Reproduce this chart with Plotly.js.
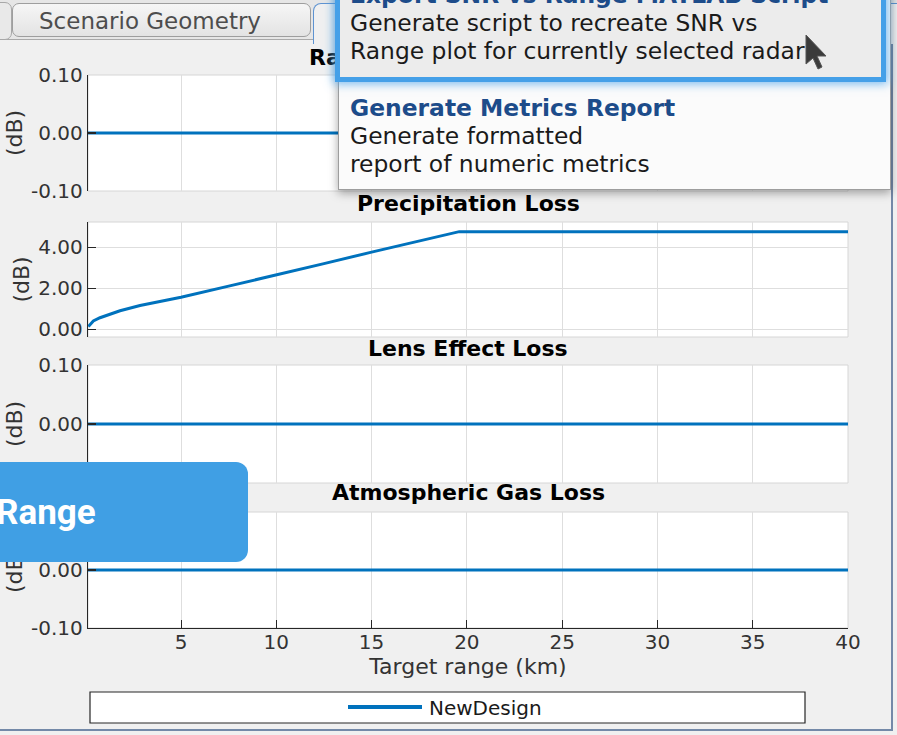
<!DOCTYPE html>
<html>
<head>
<meta charset="utf-8">
<script src="https://cdn.plot.ly/plotly-3.0.1.min.js"></script>
<style>
  html, body { margin: 0; padding: 0; background: #f5f5f5; overflow: hidden; }
  #wrap { position: relative; width: 897px; height: 735px; overflow: hidden; background: #f5f5f5; }
  #chart { position: absolute; left: 0; top: 0; width: 897px; height: 735px; }
  .ui { font-family: "DejaVu Sans", sans-serif; position: absolute; white-space: nowrap; }
  #panelBorder { position: absolute; left: -2px; top: 39px; width: 893px; height: 690px;
    border-right: 2px solid #7489a8; border-bottom: 2px solid #7489a8; pointer-events: none; }
  #strip { position: absolute; left: 0; top: 0; width: 897px; height: 39px; background: #e6e6e6;
    border-bottom: 1px solid #a9a9a9; }
  #tabPrev { position: absolute; left: -60px; top: 2px; width: 70px; height: 36px; background: #e9e9e9;
    border: 1px solid #a8a8a8; border-radius: 7px; }
  #tabScenario { position: absolute; left: 12px; top: 3px; width: 299px; height: 34px;
    background: linear-gradient(#f6f6f6, #e3e3e3); border: 1px solid #9e9e9e; border-radius: 7px;
    font-size: 23px; color: #4d4d4d; line-height: 34px; padding-left: 26px; box-sizing: border-box; }
  #tabSel { position: absolute; left: 313px; top: 3px; width: 600px; height: 40px; background: #f0f0f0;
    border: 1px solid #5e93d1; border-bottom: none; border-radius: 8px 8px 0 0; }
  #menu { position: absolute; left: 338px; top: -60px; width: 553px; height: 250px; background: #fbfbfb;
    border: 1px solid #9d9d9d; box-shadow: 0 3px 9px rgba(0,0,0,0.35); box-sizing: border-box; }
  #hilite { position: absolute; left: 335px; top: -60px; width: 551px; height: 142px; background: #ececec;
    border: 5px solid #45a0e8; box-shadow: 0 0 9px 2px rgba(80,165,235,0.75); box-sizing: border-box; }
  .mi { font-size: 23.4px; line-height: 28px; color: #1a1a1a; left: 350px; }
  .mh { font-weight: bold; color: #1d4c8a; }
  #rangeBox { position: absolute; left: -30px; top: 462px; width: 278px; height: 100px; background: #409fe4;
    border-radius: 12px; }
  #rangeTxt { position: absolute; left: -4px; top: 491px; font-family: Roboto, "Liberation Sans", sans-serif;
    font-weight: bold; font-size: 35px; line-height: 44px; color: #ffffff; white-space: nowrap; }
  #cursor { position: absolute; left: 805px; top: 34px; }
</style>
</head>
<body>
<div id="wrap">
  <div id="chart"></div>
  <div id="panelBorder"></div>
  <div id="strip"></div>
  <div id="tabPrev"></div>
  <div id="tabSel"></div>
  <div id="tabScenario" class="ui">Scenario Geometry</div>
  <div id="menu"></div>
  <div id="hilite"></div>
  <div class="ui mi mh" style="top:-19px">Export SNR vs Range MATLAB Script</div>
  <div class="ui mi" style="top:9px">Generate script to recreate SNR vs</div>
  <div class="ui mi" style="top:37px">Range plot for currently selected radar</div>
  <div class="ui mi mh" style="top:94px">Generate Metrics Report</div>
  <div class="ui mi" style="top:122px">Generate formatted</div>
  <div class="ui mi" style="top:150px">report of numeric metrics</div>
  <svg id="cursor" width="24" height="38" viewBox="0 0 24 38">
    <path d="M1,1 L1,30 L8,24 L13,35 L17,33 L12,22 L21,22 Z" fill="#3b3b3b" stroke="#555" stroke-width="1" stroke-linejoin="round"/>
  </svg>
  <div id="rangeBox"></div>
  <div id="rangeTxt">Range</div>
</div>
<script>
// ---- data ----
const subplotTitles = ['Radar Propagation Factor', 'Precipitation Loss', 'Lens Effect Loss', 'Atmospheric Gas Loss'];
const seriesName = 'NewDesign';
const flatRangeKm = [0.12, 40];
const propagationLossDb = [0, 0];
const lensLossDb = [0, 0];
const gasLossDb = [0, 0];
const precipRangeKm = [0.14, 0.4, 0.75, 1.27, 1.8, 2.85, 3.9, 5, 7.5, 10, 12.5, 15, 17, 18.6, 19.6, 25, 30, 35, 40];
const precipLossDb  = [0.13, 0.4, 0.56, 0.74, 0.9, 1.16, 1.37, 1.56, 2.1, 2.64, 3.2, 3.76, 4.19, 4.54, 4.76, 4.76, 4.76, 4.76, 4.76];
const xTickVals = [5, 10, 15, 20, 25, 30, 35, 40];
const xTickText = ['5', '10', '15', '20', '25', '30', '35', '40'];
const smallTickVals = [-0.1, 0, 0.1];
const smallTickText = ['-0.10', '0.00', '0.10'];
const precipTickVals = [0, 2, 4];
const precipTickText = ['0.00', '2.00', '4.00'];
const xRange = [0.12, 40];
const smallRange = [-0.1, 0.1];
const precipRange = [-0.38, 5.23];

// ---- layout helpers ----
const W = 897, H = 735;
const fx = p => p / W;
const fy = p => 1 - p / H;
const FONT = 'DejaVu Sans, sans-serif';
const AX = '#262626';
const GRID = '#dedede';
const BLUE = '#0072BD';
const xDom = [fx(88), fx(848)];
const plotsPx = [[75, 191], [222, 337], [365, 483], [512, 628]];
const titleY = [57, 203, 348, 492];

function xAxis(n, anchor) {
  const last = n === 4;
  const a = {
    domain: xDom, anchor: anchor, range: xRange, tickvals: xTickVals, ticktext: xTickText,
    showticklabels: last, ticks: last ? 'inside' : '', ticklen: 8, tickwidth: 1, tickcolor: AX,
    showgrid: true, gridcolor: GRID, gridwidth: 1, zeroline: false,
    showline: last, linecolor: AX, linewidth: 1.2, mirror: false,
    tickfont: { family: FONT, size: 20, color: '#333333' }, fixedrange: true
  };
  if (last) {
    a.ticklabelstandoff = -4;
    a.title = { text: 'Target range (km)', font: { family: FONT, size: 22, color: '#333333' }, standoff: 2 };
  }
  return a;
}
function yAxis(n, anchor, range, tv, tt) {
  const p = plotsPx[n - 1];
  return {
    domain: [fy(p[1]), fy(p[0])], anchor: anchor, range: range, tickvals: tv, ticktext: tt,
    ticks: 'inside', ticklen: 8, tickwidth: 1.2, tickcolor: AX, showgrid: true, gridcolor: GRID, gridwidth: 1,
    zeroline: false, showline: true, linecolor: AX, linewidth: 1.2, mirror: false,
    tickfont: { family: FONT, size: 20, color: '#333333' }, fixedrange: true,
    title: { text: '(dB)', font: { family: FONT, size: 22, color: '#333333' }, standoff: 2 }
  };
}

const lineStyle = { color: BLUE, width: 3 };
const traces = [
  { x: flatRangeKm, y: propagationLossDb, xaxis: 'x', yaxis: 'y', mode: 'lines', line: lineStyle, showlegend: false, name: seriesName },
  { x: precipRangeKm, y: precipLossDb, xaxis: 'x2', yaxis: 'y2', mode: 'lines', line: lineStyle, showlegend: true, name: seriesName },
  { x: flatRangeKm, y: lensLossDb, xaxis: 'x3', yaxis: 'y3', mode: 'lines', line: lineStyle, showlegend: false, name: seriesName },
  { x: flatRangeKm, y: gasLossDb, xaxis: 'x4', yaxis: 'y4', mode: 'lines', line: lineStyle, showlegend: false, name: seriesName }
];

const shapes = plotsPx.map(p => ({
  type: 'rect', xref: 'paper', yref: 'paper', x0: xDom[0], x1: xDom[1], y0: fy(p[1]), y1: fy(p[0]),
  line: { color: '#d6d6d6', width: 1 }, fillcolor: 'rgba(0,0,0,0)', layer: 'below'
}));
shapes.push({ type: 'rect', xref: 'paper', yref: 'paper', x0: fx(90), x1: fx(805), y0: fy(723), y1: fy(692),
  line: { color: AX, width: 1.2 }, fillcolor: '#ffffff', layer: 'below' });

const annotations = subplotTitles.map((t, i) => ({
  text: t, xref: 'paper', yref: 'paper', x: fx(468), y: fy(titleY[i]), xanchor: 'center', yanchor: 'middle',
  showarrow: false, font: { family: FONT, size: 22, color: '#000000', weight: 'bold' }
}));

const layout = {
  width: W, height: H, margin: { l: 0, r: 0, t: 0, b: 0, autoexpand: false },
  paper_bgcolor: '#f0f0f0', plot_bgcolor: '#ffffff', showlegend: true,
  font: { family: FONT, color: '#333333' },
  xaxis: xAxis(1, 'y'), xaxis2: xAxis(2, 'y2'), xaxis3: xAxis(3, 'y3'), xaxis4: xAxis(4, 'y4'),
  yaxis: yAxis(1, 'x', smallRange, smallTickVals, smallTickText),
  yaxis2: yAxis(2, 'x2', precipRange, precipTickVals, precipTickText),
  yaxis3: yAxis(3, 'x3', smallRange, smallTickVals, smallTickText),
  yaxis4: yAxis(4, 'x4', smallRange, smallTickVals, smallTickText),
  legend: { x: fx(339), y: fy(707), xanchor: 'left', yanchor: 'middle', orientation: 'h',
    bgcolor: 'rgba(0,0,0,0)', borderwidth: 0, itemwidth: 80,
    font: { family: FONT, size: 20, color: '#1a1a1a' } },
  shapes: shapes, annotations: annotations
};

Plotly.newPlot('chart', traces, layout, { staticPlot: true, displayModeBar: false }).then(gd => {
  gd.querySelectorAll('.legendlines path').forEach(p => { p.setAttribute('d', 'M9,0h74'); p.style.strokeWidth = '4px'; });
});
</script>
</body>
</html>
